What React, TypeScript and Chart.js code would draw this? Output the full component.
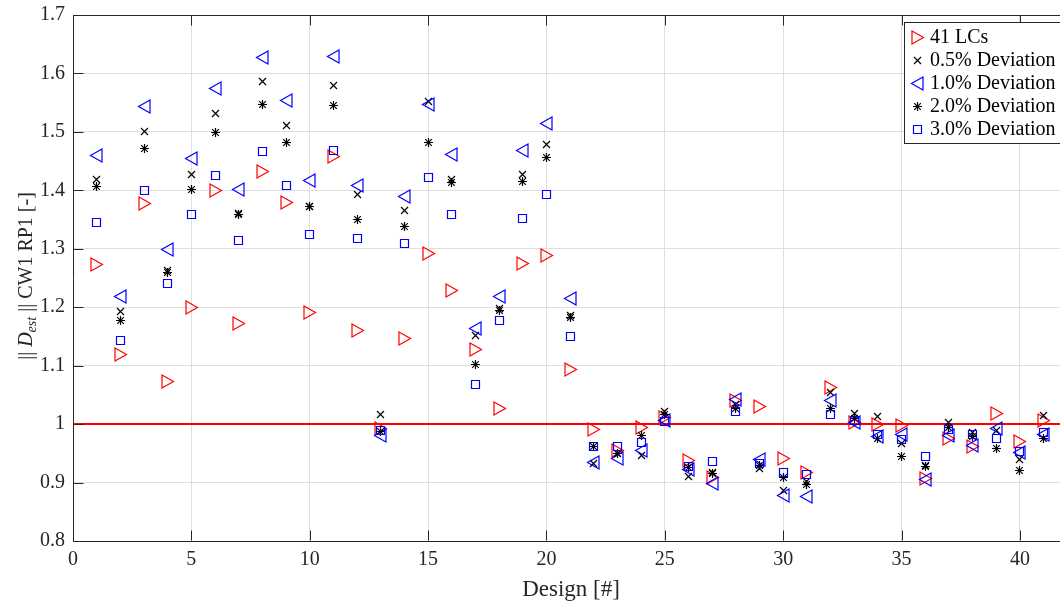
import React, { useEffect, useRef } from 'react';
import { Chart, registerables } from 'chart.js';

Chart.register(...registerables);

const designs = [1, 2, 3, 4, 5, 6, 7, 8, 9, 10, 11, 12, 13, 14, 15, 16, 17, 18, 19, 20, 21, 22, 23, 24, 25, 26, 27, 28, 29, 30, 31, 32, 33, 34, 35, 36, 37, 38, 39, 40, 41];

const lcs41 = [1.273, 1.119, 1.378, 1.073, 1.200, 1.399, 1.172, 1.432, 1.379, 1.191, 1.458, 1.160, 0.993, 1.147, 1.292, 1.228, 1.128, 1.026, 1.274, 1.288, 1.094, 0.990, 0.955, 0.994, 1.011, 0.938, 0.909, 1.040, 1.030, 0.941, 0.917, 1.062, 1.003, 0.999, 0.997, 0.907, 0.976, 0.962, 1.018, 0.970, 1.007];
const dev05 = [1.419, 1.192, 1.500, 1.263, 1.427, 1.531, 1.361, 1.587, 1.511, 1.373, 1.579, 1.393, 1.017, 1.366, 1.552, 1.419, 1.152, 1.198, 1.427, 1.478, 1.185, 0.933, 0.950, 0.946, 1.021, 0.911, 0.917, 1.033, 0.924, 0.887, 0.901, 1.054, 1.019, 1.013, 0.966, 0.929, 1.002, 0.985, 0.989, 0.940, 1.014];
const dev10 = [1.459, 1.218, 1.544, 1.298, 1.455, 1.575, 1.402, 1.628, 1.553, 1.416, 1.629, 1.409, 0.981, 1.390, 1.547, 1.462, 1.163, 1.219, 1.468, 1.514, 1.215, 0.934, 0.942, 0.954, 1.007, 0.922, 0.898, 1.042, 0.940, 0.878, 0.876, 1.040, 1.002, 0.979, 0.982, 0.905, 0.980, 0.963, 0.993, 0.952, 0.983];
const dev20 = [1.406, 1.177, 1.472, 1.259, 1.401, 1.499, 1.359, 1.547, 1.482, 1.372, 1.545, 1.350, 0.987, 1.338, 1.481, 1.413, 1.102, 1.195, 1.415, 1.456, 1.183, 0.962, 0.949, 0.981, 1.016, 0.926, 0.916, 1.027, 0.930, 0.909, 0.896, 1.026, 1.009, 0.975, 0.944, 0.928, 0.995, 0.979, 0.958, 0.920, 0.976];
const dev30 = [1.345, 1.143, 1.400, 1.240, 1.358, 1.425, 1.315, 1.466, 1.409, 1.324, 1.468, 1.317, 0.989, 1.309, 1.422, 1.358, 1.068, 1.178, 1.352, 1.393, 1.150, 0.962, 0.962, 0.969, 1.004, 0.928, 0.936, 1.021, 0.933, 0.918, 0.913, 1.016, 1.006, 0.983, 0.973, 0.944, 0.990, 0.982, 0.975, 0.953, 0.985];

const seriesLabels = ['41 LCs', '0.5% Deviation', '1.0% Deviation', '2.0% Deviation', '3.0% Deviation'];
const xTicks = [0, 5, 10, 15, 20, 25, 30, 35, 40];
const yTicks = [0.8, 0.9, 1.0, 1.1, 1.2, 1.3, 1.4, 1.5, 1.6, 1.7];
const refLevel = 1.0;
const X_MIN = 0;
const X_MAX = 41.69;
const Y_MIN = 0.8;
const Y_MAX = 1.7;

const FONT = '"Liberation Serif", "Times New Roman", serif';
const AXIS = '#262626';

function makeMarker(kind: string): HTMLCanvasElement {
  const s = 17;
  const c = 8.5;
  const cv = document.createElement('canvas');
  cv.width = s;
  cv.height = s;
  const g = cv.getContext('2d')!;
  g.lineWidth = 1.2;
  g.beginPath();
  switch (kind) {
    case 'right':
      g.strokeStyle = '#ff0000';
      g.moveTo(c - 5.5, c - 6.5);
      g.lineTo(c + 6, c);
      g.lineTo(c - 5.5, c + 6.5);
      g.closePath();
      break;
    case 'left':
      g.strokeStyle = '#0000ff';
      g.moveTo(c + 5.5, c - 6.5);
      g.lineTo(c - 6, c);
      g.lineTo(c + 5.5, c + 6.5);
      g.closePath();
      break;
    case 'x':
      g.strokeStyle = '#000000';
      g.moveTo(c - 3.5, c - 3.5);
      g.lineTo(c + 3.5, c + 3.5);
      g.moveTo(c + 3.5, c - 3.5);
      g.lineTo(c - 3.5, c + 3.5);
      break;
    case 'star':
      g.strokeStyle = '#000000';
      g.moveTo(c - 4.5, c);
      g.lineTo(c + 4.5, c);
      g.moveTo(c, c - 4.5);
      g.lineTo(c, c + 4.5);
      g.moveTo(c - 3.3, c - 3.3);
      g.lineTo(c + 3.3, c + 3.3);
      g.moveTo(c + 3.3, c - 3.3);
      g.lineTo(c - 3.3, c + 3.3);
      break;
    case 'square':
      g.strokeStyle = '#0000ff';
      g.rect(c - 4, c - 4, 8, 8);
      break;
  }
  g.stroke();
  return cv;
}

export default function App() {
  const ref = useRef<HTMLCanvasElement | null>(null);

  useEffect(() => {
    const canvas = ref.current;
    if (!canvas) return;
    const markers = ['right', 'x', 'left', 'star', 'square'].map(makeMarker);
    const pts = (arr: number[]) => designs.map((d, i) => ({ x: d, y: arr[i] }));
    const seriesValues = [lcs41, dev05, dev10, dev20, dev30];

    const snapPlugin = {
      id: 'snap',
      beforeDatasetsDraw(chart: any) {
        for (let i = 0; i < seriesLabels.length; i++) {
          const meta = chart.getDatasetMeta(i);
          meta.data.forEach((el: any) => {
            el.x = Math.floor(el.x) + 0.5;
            el.y = Math.floor(el.y) + 0.5;
          });
        }
      },
    };

    const framePlugin = {
      id: 'frame',
      afterDraw(chart: any) {
        const ctx = chart.ctx as CanvasRenderingContext2D;
        const area = chart.chartArea;
        const xs = chart.scales.x;
        const ys = chart.scales.y;
        ctx.save();
        ctx.strokeStyle = AXIS;
        ctx.lineWidth = 1;
        ctx.beginPath();
        const top = Math.round(area.top) + 0.5;
        ctx.moveTo(area.left, top);
        ctx.lineTo(area.right + 5, top);
        const bottom = Math.round(area.bottom) - 0.5;
        for (const v of xTicks) {
          const px = Math.round(xs.getPixelForValue(v)) + 0.5;
          ctx.moveTo(px, bottom);
          ctx.lineTo(px, bottom - 10);
          ctx.moveTo(px, top);
          ctx.lineTo(px, top + 10);
        }
        const left = Math.round(area.left) + 0.5;
        for (const v of yTicks) {
          const py = Math.round(ys.getPixelForValue(v)) + 0.5;
          ctx.moveTo(left, py);
          ctx.lineTo(left + 10, py);
        }
        ctx.stroke();

        // legend
        const lx = 904.5;
        const ly = 22.5;
        ctx.fillStyle = '#ffffff';
        ctx.fillRect(lx, ly, 200, 121);
        ctx.strokeStyle = AXIS;
        ctx.strokeRect(lx, ly, 200, 121);
        ctx.font = `20px ${FONT}`;
        ctx.fillStyle = '#000000';
        ctx.textBaseline = 'middle';
        ctx.textAlign = 'left';
        seriesLabels.forEach((lab, i) => {
          const y = 37 + 23 * i;
          const m = markers[i];
          ctx.drawImage(m, 917 - m.width / 2 + 0.5, y - m.height / 2 + 0.5);
          ctx.fillText(lab, 930, y + 1);
        });

        // x title
        ctx.fillStyle = AXIS;
        ctx.textAlign = 'center';
        ctx.textBaseline = 'middle';
        ctx.font = `23px ${FONT}`;
        ctx.fillText('Design [#]', 571, 590);

        // y title with subscript
        const parts = [
          { t: '|| ', f: `20px ${FONT}`, dy: 0 },
          { t: 'D', f: `italic 20px ${FONT}`, dy: 0 },
          { t: 'est', f: `italic 14px ${FONT}`, dy: 5 },
          { t: ' || CW1 RP1 [-]', f: `20px ${FONT}`, dy: 0 },
        ];
        let total = 0;
        const widths = parts.map((p) => {
          ctx.font = p.f;
          const w = ctx.measureText(p.t).width;
          total += w;
          return w;
        });
        ctx.translate(27, 276);
        ctx.rotate(-Math.PI / 2);
        ctx.textAlign = 'left';
        ctx.textBaseline = 'middle';
        let cx = -total / 2;
        parts.forEach((p, i) => {
          ctx.font = p.f;
          ctx.fillText(p.t, cx, p.dy);
          cx += widths[i];
        });
        ctx.restore();
      },
    };

    const chart = new Chart(canvas, {
      type: 'scatter',
      data: {
        datasets: [
          ...seriesLabels.map((lab, i) => ({
            label: lab,
            data: pts(seriesValues[i]),
            pointStyle: markers[i] as any,
            pointRadius: 6,
            pointHoverRadius: 6,
            borderColor: 'rgba(0,0,0,0)',
            backgroundColor: 'rgba(0,0,0,0)',
            order: 5 - i,
          })),
          {
            label: 'ref',
            data: [
              { x: X_MIN, y: refLevel },
              { x: X_MAX, y: refLevel },
            ],
            showLine: true,
            borderColor: '#ff0000',
            backgroundColor: '#ff0000',
            borderWidth: 2,
            pointRadius: 0,
            pointHoverRadius: 0,
            order: 10,
          } as any,
        ],
      },
      options: {
        animation: false,
        responsive: false,
        devicePixelRatio: 1,
        events: [],
        layout: { autoPadding: false, padding: { top: 15, left: 0, right: 0, bottom: 0 } },
        plugins: { legend: { display: false }, tooltip: { enabled: false } },
        scales: {
          x: {
            type: 'linear',
            min: X_MIN,
            max: X_MAX,
            afterBuildTicks: (s: any) => {
              s.ticks = xTicks.map((v) => ({ value: v }));
            },
            afterFit: (s: any) => {
              s.height = 65;
              s.paddingLeft = 0;
              s.paddingRight = 0;
            },
            grid: { color: '#dfdfdf', drawTicks: false, lineWidth: 1 },
            border: { color: AXIS, width: 1 },
            ticks: {
              padding: 7,
              color: AXIS,
              font: { family: FONT, size: 20 },
              maxRotation: 0,
              autoSkip: false,
            },
          },
          y: {
            type: 'linear',
            min: Y_MIN,
            max: Y_MAX,
            afterBuildTicks: (s: any) => {
              s.ticks = yTicks.map((v) => ({ value: v }));
            },
            afterFit: (s: any) => {
              s.width = 73;
              s.paddingTop = 0;
              s.paddingBottom = 0;
            },
            grid: { color: '#dfdfdf', drawTicks: false, lineWidth: 1 },
            border: { color: AXIS, width: 1 },
            ticks: {
              padding: 8,
              color: AXIS,
              font: { family: FONT, size: 20 },
              autoSkip: false,
              callback: (v: any) => String(Number(Number(v).toFixed(2))),
            },
          },
        },
      } as any,
      plugins: [snapPlugin, framePlugin],
    });

    return () => {
      chart.destroy();
    };
  }, []);

  return (
    <div style={{ position: 'fixed', left: 0, top: 0, width: 1060, height: 606, background: '#ffffff' }}>
      <canvas ref={ref} width={1060} height={606} style={{ width: 1060, height: 606, display: 'block' }} />
    </div>
  );
}
